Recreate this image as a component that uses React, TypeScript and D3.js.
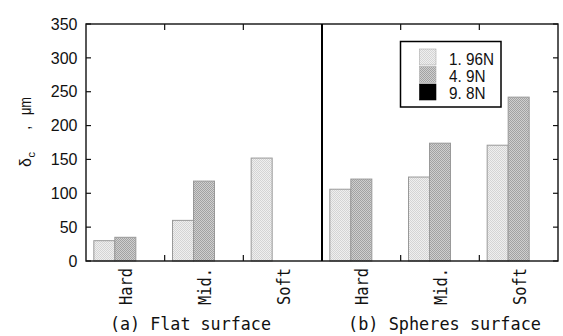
import React from "react";
import * as d3 from "d3";

const categories = ["Hard", "Mid.", "Soft", "Hard ", "Mid. ", "Soft "];
const categoryLabels = ["Hard", "Mid.", "Soft", "Hard", "Mid.", "Soft"];
const seriesNames = ["1.96N", "4.9N", "9.8N"];
const legendLabels = ["1. 96N", "4. 9N", "9. 8N"];
const s196 = [30, 60, 152, 106, 124, 171];
const s49 = [35, 118, 0, 121, 174, 242];
const s98 = [0, 0, 0, 0, 0, 0];
const yTicks = [0, 50, 100, 150, 200, 250, 300, 350];
const groupTitles = ["(a) Flat surface", "(b) Spheres surface"];

const W = 563, H = 336;
const L = 86, R = 558, T = 24, B = 261;

export default function App() {
  const x = d3.scaleBand<string>().domain(categories).range([L, R]).padding(0);
  const xi = d3.scaleBand<string>().domain(seriesNames).range([0, x.bandwidth()]).paddingInner(0).paddingOuter(0.373);
  const y = d3.scaleLinear().domain([0, 350]).range([B, T]);
  const series = [s196, s49, s98];
  const fills = ["url(#p1)", "url(#p2)", "#000"];
  const step = x.step();
  const boundaries = d3.range(1, categories.length).map((i) => L + i * step);
  const divider = L + 3 * step;
  const tickLen = 6;
  const mono = "'DejaVu Sans Mono', 'Liberation Mono', monospace";
  const sans = "'Liberation Sans', Arial, sans-serif";

  return (
    <svg width={W} height={H} style={{ display: "block", position: "absolute", left: 0, top: 0 }}>
      <defs>
        <pattern id="p1" width={2} height={2} patternUnits="userSpaceOnUse">
          <rect width={2} height={2} fill="#efefef" />
          <rect width={1} height={1} fill="#d4d4d4" />
          <rect x={1} y={1} width={1} height={1} fill="#d4d4d4" />
        </pattern>
        <pattern id="p2" width={2} height={2} patternUnits="userSpaceOnUse">
          <rect width={2} height={2} fill="#cfcfcf" />
          <rect width={1} height={1} fill="#a2a2a2" />
          <rect x={1} y={1} width={1} height={1} fill="#a2a2a2" />
        </pattern>
      </defs>
      <rect width={W} height={H} fill="#fff" />

      {/* bars */}
      {categories.map((c, ci) =>
        series.map((s, si) =>
          s[ci] > 0 ? (
            <rect
              key={c + si}
              x={(x(c) as number) + (xi(seriesNames[si]) as number)}
              y={y(s[ci])}
              width={xi.bandwidth()}
              height={B - y(s[ci])}
              fill={fills[si]}
              stroke="#999"
              strokeWidth={1}
            />
          ) : null
        )
      )}

      {/* frame */}
      <rect x={L} y={T} width={R - L} height={B - T} fill="none" stroke="#111" strokeWidth={1.4} />
      <line x1={divider} x2={divider} y1={T} y2={B} stroke="#000" strokeWidth={2} />

      {/* y ticks */}
      {yTicks.map((t) => (
        <g key={t}>
          <line x1={L} x2={L + 5} y1={y(t)} y2={y(t)} stroke="#111" strokeWidth={1.2} />
          <line x1={R} x2={R - 5} y1={y(t)} y2={y(t)} stroke="#111" strokeWidth={1.2} />
          <text x={L - 8.5} y={y(t)} dy="0.36em" textAnchor="end" fontFamily={sans} fontSize={16} fill="#111">
            {t}
          </text>
        </g>
      ))}

      {/* x ticks */}
      {boundaries
        .filter((b) => Math.abs(b - divider) > 1)
        .map((b) => (
          <g key={b}>
            <line x1={b} x2={b} y1={B} y2={B - tickLen} stroke="#111" strokeWidth={1.2} />
            <line x1={b} x2={b} y1={T} y2={T + tickLen} stroke="#111" strokeWidth={1.2} />
          </g>
        ))}

      {/* category labels */}
      {categories.map((c, ci) => {
        const cx = (x(c) as number) + x.bandwidth() / 2;
        return (
          <text
            key={c}
            transform={`translate(${cx + 7},${305}) rotate(-90)`}
            fontFamily={mono}
            fontSize={18}
            textLength={37}
            lengthAdjust="spacingAndGlyphs"
            fill="#111"
          >
            {categoryLabels[ci]}
          </text>
        );
      })}

      {/* group titles */}
      <text x={110} y={329.5} fontFamily={mono} fontSize={18.5} textLength={161} lengthAdjust="spacingAndGlyphs" fill="#111">
        {groupTitles[0]}
      </text>
      <text x={348} y={329.5} fontFamily={mono} fontSize={18.5} textLength={193} lengthAdjust="spacingAndGlyphs" fill="#111">
        {groupTitles[1]}
      </text>

      {/* y axis label */}
      <g transform="translate(31,0) rotate(-90)" fontFamily={sans} fill="#111">
        <text x={-167} y={0} fontSize={16}>δ</text>
        <text x={-157.5} y={3.5} fontSize={11}>c</text>
        <text x={-130} y={-1} fontSize={16}>,</text>
        <text x={-115} y={0} fontSize={16} textLength={18} lengthAdjust="spacingAndGlyphs">μm</text>
      </g>

      {/* legend */}
      <rect x={400.5} y={41.5} width={100.5} height={65.5} fill="#fff" stroke="#000" strokeWidth={1.5} />
      {seriesNames.map((s, i) => (
        <g key={s}>
          <rect x={419.5} y={49 + i * 17.5} width={16.5} height={16} fill={fills[i]} stroke={i === 2 ? "#000" : "#aaa"} strokeWidth={0.6} />
          <text
            x={449}
            y={64.5 + i * 17.2}
            fontFamily={sans}
            fontSize={17}
            textLength={i === 0 ? 45 : 36.5}
            lengthAdjust="spacingAndGlyphs"
            fill="#111"
          >
            {legendLabels[i]}
          </text>
        </g>
      ))}
    </svg>
  );
}
